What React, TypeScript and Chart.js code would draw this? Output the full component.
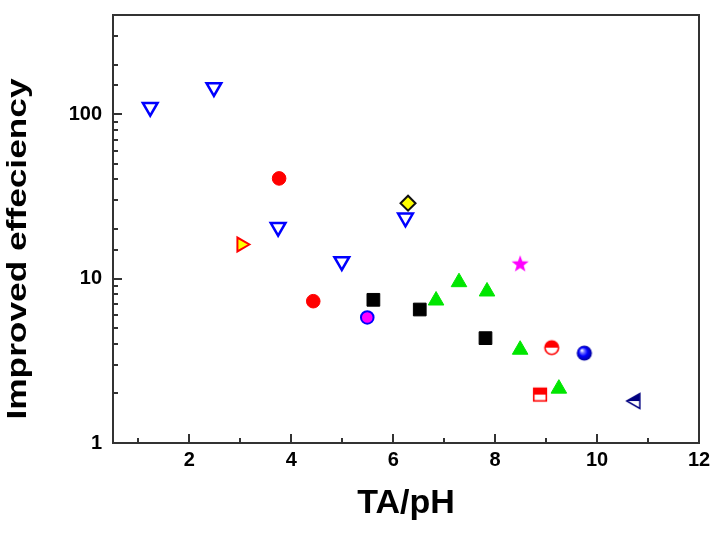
import React, { useEffect, useRef } from 'react';
import { Chart, registerables } from 'chart.js';

Chart.register(...registerables);

// ---- data ----
const openDownTriX = [1.23, 2.48, 3.74, 4.99, 6.24];
const openDownTriY = [110, 145, 20.5, 12.7, 23.4];
const redCircleX = [3.76, 4.43];
const redCircleY = [40.6, 7.28];
const rightTriX = [3.02];
const rightTriY = [16.1];
const diamondX = [6.29];
const diamondY = [28.7];
const blackSquareX = [5.61, 6.52, 7.81];
const blackSquareY = [7.42, 6.48, 4.34];
const magentaCircleX = [5.49];
const magentaCircleY = [5.8];
const greenTriX = [6.84, 7.29, 7.84, 8.49, 9.25];
const greenTriY = [7.35, 9.5, 8.34, 3.69, 2.14];
const starX = [8.49];
const starY = [12.3];
const halfCircleX = [9.11];
const halfCircleY = [3.8];
const ballX = [9.75];
const ballY = [3.52];
const halfSquareX = [8.88];
const halfSquareY = [1.97];
const halfTriX = [10.72];
const halfTriY = [1.8];

const xTickLabels = [2, 4, 6, 8, 10, 12];
const yTickLabels = [1, 10, 100];
const xTitle = 'TA/pH';
const yTitle = 'Improved effeciency';

const FONT = '"Liberation Sans", Arial, Helvetica, sans-serif';

function pts(xs: number[], ys: number[]) {
  return xs.map((x, i) => ({ x, y: ys[i] }));
}

function makeCanvas(size: number, draw: (ctx: CanvasRenderingContext2D, c: number) => void) {
  const cv = document.createElement('canvas');
  cv.width = size;
  cv.height = size;
  const ctx = cv.getContext('2d')!;
  draw(ctx, size / 2);
  return cv;
}

function starImg() {
  return makeCanvas(20, (ctx, c) => {
    ctx.beginPath();
    for (let i = 0; i < 10; i++) {
      const r = i % 2 === 0 ? 9 : 3.7;
      const a = -Math.PI / 2 + (i * Math.PI) / 5;
      const px = c + Math.cos(a) * r;
      const py = c + 0.5 + Math.sin(a) * r;
      if (i === 0) ctx.moveTo(px, py);
      else ctx.lineTo(px, py);
    }
    ctx.closePath();
    ctx.fillStyle = '#ff00ff';
    ctx.fill();
  });
}

function halfCircleImg() {
  return makeCanvas(18, (ctx, c) => {
    const r = 6.8;
    ctx.beginPath();
    ctx.arc(c, c, r, 0, Math.PI * 2);
    ctx.fillStyle = '#ffffff';
    ctx.fill();
    ctx.beginPath();
    ctx.arc(c, c, r, Math.PI, Math.PI * 2);
    ctx.closePath();
    ctx.fillStyle = '#ff0000';
    ctx.fill();
    ctx.beginPath();
    ctx.arc(c, c, r, 0, Math.PI * 2);
    ctx.lineWidth = 1.6;
    ctx.strokeStyle = '#ff0000';
    ctx.stroke();
  });
}

function halfSquareImg() {
  return makeCanvas(18, (ctx, c) => {
    const h = 6.3;
    ctx.fillStyle = '#ffffff';
    ctx.fillRect(c - h, c - h, 2 * h, 2 * h);
    ctx.fillStyle = '#ff0000';
    ctx.fillRect(c - h, c - h, 2 * h, h);
    ctx.lineWidth = 1.6;
    ctx.strokeStyle = '#ff0000';
    ctx.strokeRect(c - h, c - h, 2 * h, 2 * h);
  });
}

function ballImg() {
  return makeCanvas(18, (ctx, c) => {
    const r = 7.6;
    const g = ctx.createRadialGradient(c - 2.6, c - 2.8, 0.4, c, c, r);
    g.addColorStop(0, '#ffffff');
    g.addColorStop(0.22, '#7a7aff');
    g.addColorStop(0.55, '#0000ff');
    g.addColorStop(1, '#00009a');
    ctx.beginPath();
    ctx.arc(c, c, r, 0, Math.PI * 2);
    ctx.fillStyle = g;
    ctx.fill();
  });
}

function halfTriImg() {
  return makeCanvas(18, (ctx, c) => {
    const tipX = c - 7;
    const baseX = c + 6;
    const h = 7.5;
    ctx.beginPath();
    ctx.moveTo(tipX, c);
    ctx.lineTo(baseX, c - h);
    ctx.lineTo(baseX, c + h);
    ctx.closePath();
    ctx.fillStyle = '#ffffff';
    ctx.fill();
    ctx.beginPath();
    ctx.moveTo(tipX, c);
    ctx.lineTo(baseX, c - h);
    ctx.lineTo(baseX, c);
    ctx.closePath();
    ctx.fillStyle = '#000080';
    ctx.fill();
    ctx.beginPath();
    ctx.moveTo(tipX, c);
    ctx.lineTo(baseX, c - h);
    ctx.lineTo(baseX, c + h);
    ctx.closePath();
    ctx.lineWidth = 1.5;
    ctx.strokeStyle = '#000080';
    ctx.stroke();
  });
}

// Inward ticks, closed frame, and the (tall, narrow) y-axis title of the reference
const frameTicks = {
  id: 'frameTicks',
  afterDraw(chart: any) {
    const { ctx, chartArea } = chart;
    const { left, right, top, bottom } = chartArea;
    const xs = chart.scales.x;
    const ys = chart.scales.y;
    ctx.save();
    ctx.strokeStyle = '#333333';
    ctx.lineWidth = 2;
    ctx.beginPath();
    xs.ticks.forEach((t: any) => {
      const v = t.value;
      if (v < 0.5 || v > 12 || Math.abs(v - Math.round(v)) > 1e-6) return;
      const px = Math.round(xs.getPixelForValue(v));
      const len = xTickLabels.includes(v) ? 9 : 5;
      ctx.moveTo(px, bottom);
      ctx.lineTo(px, bottom - len);
    });
    ys.ticks.forEach((t: any) => {
      const v = t.value;
      if (v <= 1 || v > 400) return;
      const py = Math.round(ys.getPixelForValue(v));
      const len = yTickLabels.includes(v) ? 9 : 5;
      ctx.moveTo(left, py);
      ctx.lineTo(left + len, py);
    });
    ctx.stroke();
    ctx.strokeRect(left, top, right - left, bottom - top);
    ctx.restore();

    const yt = chart.options.scales.y.title;
    ctx.save();
    ctx.fillStyle = '#000000';
    ctx.font = 'bold 28px ' + FONT;
    ctx.textAlign = 'center';
    ctx.textBaseline = 'middle';
    ctx.translate(18.5, 249);
    ctx.rotate(-Math.PI / 2);
    ctx.scale(1.26, 1);
    ctx.fillText(String(yt.text), 0, 0);
    ctx.restore();
  },
};

export default function App() {
  const ref = useRef<HTMLCanvasElement>(null);

  useEffect(() => {
    Chart.defaults.font.family = FONT;
    const datasets: any[] = [
      {
        data: pts(openDownTriX, openDownTriY),
        pointStyle: 'triangle',
        rotation: 180,
        pointRadius: 8.5,
        backgroundColor: '#ffffff',
        borderColor: '#0000ff',
        borderWidth: 2.5,
      },
      {
        data: pts(redCircleX, redCircleY),
        pointStyle: 'circle',
        pointRadius: 6.8,
        backgroundColor: '#ff0000',
        borderColor: '#ff0000',
        borderWidth: 1,
      },
      {
        data: pts(rightTriX, rightTriY),
        pointStyle: 'triangle',
        rotation: 90,
        pointRadius: 8,
        backgroundColor: '#ffff00',
        borderColor: '#ff0000',
        borderWidth: 2,
      },
      {
        data: pts(diamondX, diamondY),
        pointStyle: 'rectRot',
        pointRadius: 7.5,
        backgroundColor: '#ffff00',
        borderColor: '#111111',
        borderWidth: 2,
      },
      {
        data: pts(blackSquareX, blackSquareY),
        pointStyle: 'rect',
        pointRadius: 9,
        backgroundColor: '#000000',
        borderColor: '#000000',
        borderWidth: 1,
      },
      {
        data: pts(magentaCircleX, magentaCircleY),
        pointStyle: 'circle',
        pointRadius: 6.3,
        backgroundColor: '#ff00ff',
        borderColor: '#0000ff',
        borderWidth: 2,
      },
      {
        data: pts(greenTriX, greenTriY),
        pointStyle: 'triangle',
        pointRadius: 9,
        backgroundColor: '#00e600',
        borderColor: '#00e600',
        borderWidth: 1,
      },
      { data: pts(starX, starY), pointStyle: starImg(), pointRadius: 9 },
      { data: pts(halfCircleX, halfCircleY), pointStyle: halfCircleImg(), pointRadius: 8 },
      { data: pts(ballX, ballY), pointStyle: ballImg(), pointRadius: 8 },
      { data: pts(halfSquareX, halfSquareY), pointStyle: halfSquareImg(), pointRadius: 8 },
      { data: pts(halfTriX, halfTriY), pointStyle: halfTriImg(), pointRadius: 8 },
    ];

    const chart = new Chart(ref.current!, {
      type: 'scatter',
      data: { datasets },
      options: {
        animation: false,
        responsive: true,
        maintainAspectRatio: false,
        layout: { padding: { top: 15, right: 29, left: 0, bottom: 0 } },
        plugins: { legend: { display: false }, tooltip: { enabled: false } },
        scales: {
          x: {
            type: 'linear',
            min: 0.5,
            max: 12,
            grid: { display: false, drawTicks: false },
            border: { display: false },
            ticks: {
              stepSize: 1,
              autoSkip: false,
              includeBounds: false,
              maxRotation: 0,
              padding: 5,
              color: '#000000',
              font: { size: 20, weight: 'bold', family: FONT },
              callback: (v: any) => (xTickLabels.includes(Number(v)) ? String(v) : ''),
            },
            title: {
              display: true,
              text: xTitle,
              color: '#000000',
              font: { size: 34, weight: 'bold', family: FONT, lineHeight: 1 },
              padding: { top: 0, bottom: 18 },
            },
            afterFit: (s: any) => {
              s.height = 96;
              s.paddingLeft = 0;
              s.paddingRight = 0;
            },
          },
          y: {
            type: 'logarithmic',
            min: 1,
            max: 400,
            grid: { display: false, drawTicks: false },
            border: { display: false },
            ticks: {
              autoSkip: false,
              padding: 11,
              color: '#000000',
              font: { size: 20, weight: 'bold', family: FONT },
              callback: (v: any) => (yTickLabels.includes(Number(v)) ? String(v) : ''),
            },
            title: {
              display: false,
              text: yTitle,
            },
            afterFit: (s: any) => {
              s.width = 113;
              s.paddingTop = 0;
              s.paddingBottom = 0;
            },
          },
        },
      },
      plugins: [frameTicks],
    });
    return () => chart.destroy();
  }, []);

  return (
    <div style={{ position: 'absolute', left: 0, top: 0, width: 728, height: 539, background: '#ffffff' }}>
      <canvas ref={ref} />
    </div>
  );
}
